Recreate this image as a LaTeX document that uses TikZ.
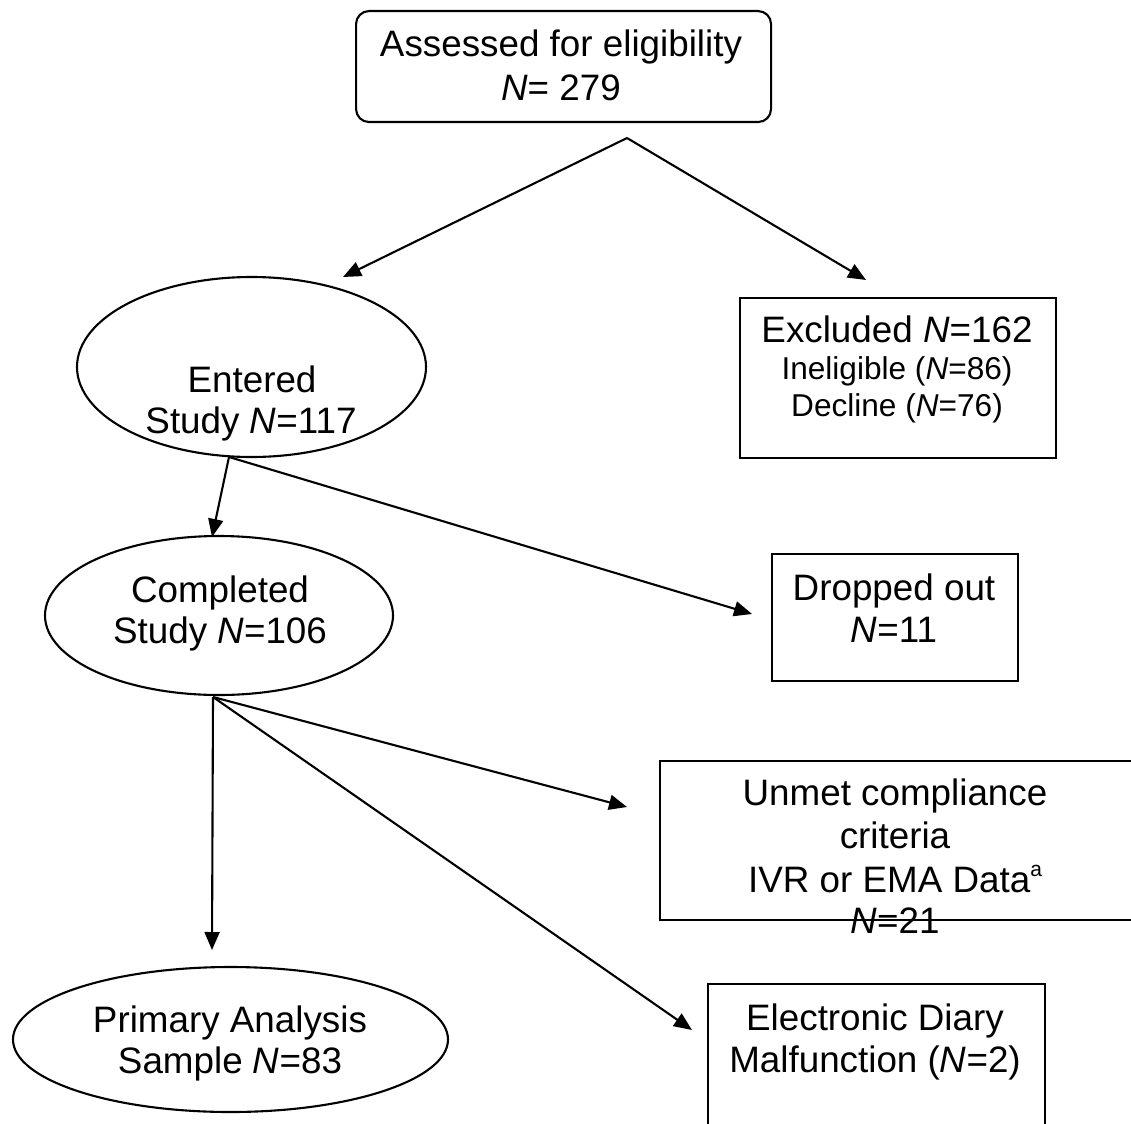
\documentclass[tikz,border=0pt]{standalone}
\usepackage{fontspec}
\setmainfont{Liberation Sans}
\usetikzlibrary{arrows.meta,shapes.geometric}
\tikzset{
  big/.style={anchor=base,inner sep=0pt,font=\fontsize{36.8}{42.5}\selectfont},
  small/.style={anchor=base,inner sep=0pt,font=\fontsize{31.6}{37}\selectfont},
  box/.style={draw,line width=2.1pt,rectangle,inner sep=0pt,anchor=north west},
  oval/.style={draw,line width=2.1pt,ellipse,inner sep=0pt},
  arr/.style={line width=2.1pt,-{Triangle[length=18pt,width=15pt]}}
}
\newcommand{\NN}{\textit{N}}
\newcommand{\supa}{\raisebox{0.42em}{\fontsize{21}{21}\selectfont a}}
\begin{document}
\begin{tikzpicture}[x=1pt,y=-1pt]
\useasboundingbox (0,0) rectangle (1131,1123);
% shapes
\node[box,rounded corners=13pt,minimum width=415pt,minimum height=111pt] (assess) at (355,10) {};
\node[box,minimum width=316pt,minimum height=160pt] (excl) at (739,297) {};
\node[oval,minimum width=349pt,minimum height=180pt] (entered) at (251.5,367) {};
\node[oval,minimum width=348pt,minimum height=159pt] (completed) at (219,615.5) {};
\node[box,minimum width=246pt,minimum height=127pt] (dropped) at (771,553) {};
\node[box,minimum width=472pt,minimum height=159pt] (unmet) at (659,760) {};
\node[oval,minimum width=435pt,minimum height=145pt] (primary) at (230.5,1039.5) {};
\node[box,minimum width=337pt,minimum height=170pt] (diary) at (707,983) {};
% texts
\node[big] (t1a) at (561,57) {Assessed for eligibility};
\node[big] (t1b) at (561,101) {\NN= 279};
\node[big] (t2a) at (897,342) {Excluded \NN=162};
\node[small] (t2b) at (897,379) {Ineligible (\NN=86)};
\node[small] (t2c) at (897,416) {Decline (\NN=76)};
\node[big] (t3a) at (252,392) {Entered};
\node[big] (t3b) at (251,433) {Study \NN=117};
\node[big] (t4a) at (220,602) {Completed};
\node[big] (t4b) at (220,643) {Study \NN=106};
\node[big] (t5a) at (894,600) {Dropped out};
\node[big] (t5b) at (894,642) {\NN=11};
\node[big] (t6a) at (895,805) {Unmet compliance};
\node[big] (t6b) at (895,848) {criteria};
\node[big] (t6c) at (895,892) {IVR or EMA Data\supa};
\node[big] (t6d) at (895,933) {\NN=21};
\node[big] (t7a) at (230,1032) {Primary Analysis};
\node[big] (t7b) at (230,1073) {Sample \NN=83};
\node[big] (t8a) at (875,1030) {Electronic Diary};
\node[big] (t8b) at (875,1072) {Malfunction (\NN=2)};
% connector points
\coordinate (split) at (627,138);
\coordinate (toEntered) at (343,277);
\coordinate (toExcl) at (866,280);
\coordinate (fromEntered) at (229,457);
\coordinate (toCompleted) at (212,537);
\coordinate (toDropped) at (752,614);
\coordinate (fromCompleted) at (213,697);
\coordinate (toPrimary) at (212,950);
\coordinate (toUnmet) at (627,807);
\coordinate (toDiary) at (692,1030);
\draw[arr] (split) -- (toEntered);
\draw[arr] (split) -- (toExcl);
\draw[arr] (fromEntered) -- (toCompleted);
\draw[arr] (fromEntered) -- (toDropped);
\draw[arr] (fromCompleted) -- (toPrimary);
\draw[arr] (fromCompleted) -- (toUnmet);
\draw[arr] (fromCompleted) -- (toDiary);
\end{tikzpicture}
\end{document}
